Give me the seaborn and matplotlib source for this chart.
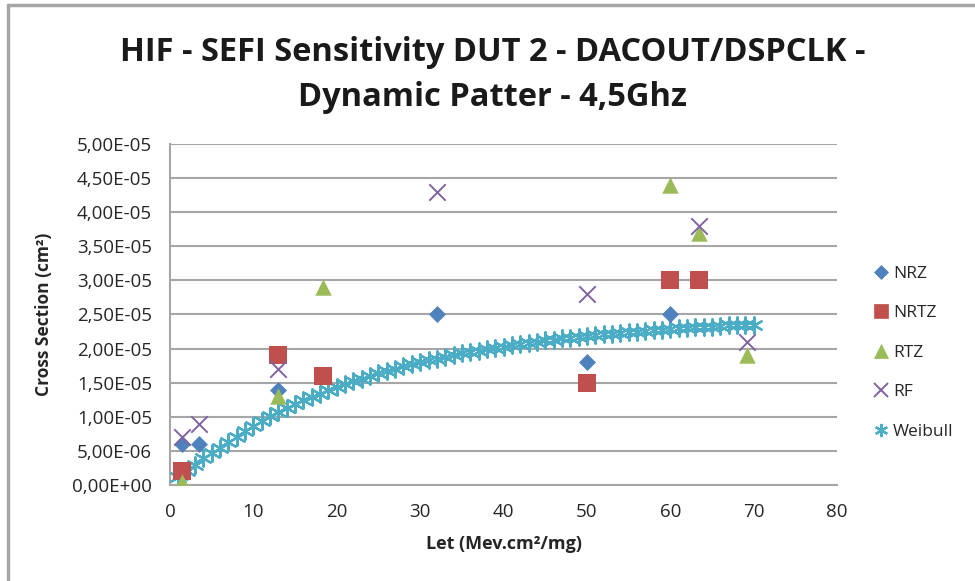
import matplotlib
matplotlib.use("Agg")
import matplotlib.pyplot as plt
from matplotlib.lines import Line2D
from matplotlib.ticker import FuncFormatter, MultipleLocator
import numpy as np
import pandas as pd
import seaborn as sns

# Measured cross sections per pattern
nrz_let = [1.4, 3.5, 12.9, 32.0, 50.0, 60.0]
nrz_xs = [6.0e-6, 6.0e-6, 1.4e-5, 2.5e-5, 1.8e-5, 2.5e-5]

nrtz_let = [1.4, 12.9, 18.4, 50.0, 60.0, 63.4]
nrtz_xs = [2.0e-6, 1.9e-5, 1.6e-5, 1.5e-5, 3.0e-5, 3.0e-5]

rtz_let = [1.4, 12.9, 18.4, 60.0, 63.4, 69.2]
rtz_xs = [0.5e-6, 1.3e-5, 2.9e-5, 4.4e-5, 3.7e-5, 1.9e-5]

rf_let = [1.4, 3.5, 12.9, 32.0, 50.0, 63.4, 69.2]
rf_xs = [7.0e-6, 9.0e-6, 1.7e-5, 4.3e-5, 2.8e-5, 3.8e-5, 2.1e-5]

# Weibull fit, sampled each LET unit
weibull_let = list(range(1, 71))
weibull_xs = [
    1.2e-6, 2.1e-6, 3.0e-6, 3.9e-6, 4.7e-6, 5.5e-6, 6.3e-6, 7.1e-6, 7.9e-6, 8.7e-6,
    9.4e-6, 1.01e-5, 1.07e-5, 1.13e-5, 1.19e-5, 1.24e-5, 1.29e-5, 1.34e-5, 1.39e-5, 1.43e-5,
    1.48e-5, 1.52e-5, 1.56e-5, 1.60e-5, 1.64e-5, 1.67e-5, 1.70e-5, 1.74e-5, 1.77e-5, 1.80e-5,
    1.83e-5, 1.85e-5, 1.88e-5, 1.90e-5, 1.93e-5, 1.95e-5, 1.97e-5, 1.99e-5, 2.01e-5, 2.03e-5,
    2.05e-5, 2.07e-5, 2.08e-5, 2.10e-5, 2.12e-5, 2.13e-5, 2.15e-5, 2.16e-5, 2.17e-5, 2.19e-5,
    2.20e-5, 2.21e-5, 2.22e-5, 2.23e-5, 2.24e-5, 2.25e-5, 2.26e-5, 2.27e-5, 2.28e-5, 2.29e-5,
    2.30e-5, 2.30e-5, 2.31e-5, 2.32e-5, 2.32e-5, 2.33e-5, 2.34e-5, 2.34e-5, 2.35e-5, 2.35e-5,
]

series_names = ["NRZ", "NRTZ", "RTZ", "RF", "Weibull"]
x_ticks = [0, 10, 20, 30, 40, 50, 60, 70, 80]

sns.set_theme(style="white")
plt.rcParams["font.family"] = ["Open Sans", "DejaVu Sans"]

fig = plt.figure(figsize=(9.75, 5.81), dpi=100)
ax = fig.add_axes([0.1744, 0.1652, 0.6841, 0.5870])

styles = {
    "NRZ": dict(color="#4F81BD", marker="D", s=75, linewidth=0),
    "NRTZ": dict(color="#C0504D", marker="s", s=150, linewidth=0),
    "RTZ": dict(color="#9BBB59", marker="^", s=140, linewidth=0),
    "RF": dict(color="#8064A2", marker="x", s=140, linewidth=1.4),
    "Weibull": dict(color="#4BACC6", marker=(6, 2, 0), s=140, linewidth=1.6),
}
data = {
    "NRZ": (nrz_let, nrz_xs),
    "NRTZ": (nrtz_let, nrtz_xs),
    "RTZ": (rtz_let, rtz_xs),
    "RF": (rf_let, rf_xs),
    "Weibull": (weibull_let, weibull_xs),
}

draw_order = ["Weibull", "NRZ", "NRTZ", "RTZ", "RF"]
for name in draw_order:
    let, xs = data[name]
    df = pd.DataFrame({"let": let, "xs": xs})
    st = styles[name]
    sns.scatterplot(data=df, x="let", y="xs", ax=ax, color=st["color"],
                    marker=st["marker"], s=st["s"], linewidth=st["linewidth"],
                    edgecolor=st["color"] if st["linewidth"] == 0 else None,
                    zorder=3 if name == "Weibull" else 4, legend=False)

ax.set_xlim(0, 80)
ax.set_ylim(0, 5e-5)
ax.set_xticks(x_ticks)
ax.yaxis.set_major_locator(MultipleLocator(5e-6))


def sci_comma(v, pos):
    mant, exp = f"{v:.2E}".split("E")
    return f"{mant.replace('.', ',')}E{exp[0]}{exp[1:].zfill(2)}"


ax.yaxis.set_major_formatter(FuncFormatter(sci_comma))
ax.grid(axis="y", color="#A6A6A6", linewidth=1.5)
ax.grid(axis="x", visible=False)
for side in ["top", "right"]:
    ax.spines[side].set_visible(False)
for side in ["left", "bottom"]:
    ax.spines[side].set_color("#A6A6A6")
    ax.spines[side].set_linewidth(1.5)
ax.tick_params(axis="both", direction="out", length=5, width=1.5, color="#A6A6A6",
               labelsize=13.5, labelcolor="#262626")
ax.tick_params(axis="y", pad=8)
ax.tick_params(axis="x", pad=8)
ax.set_axisbelow(True)

ax.set_xlabel("Let (Mev.cm²/mg)", fontsize=13, fontweight="bold", labelpad=10)
ax.set_ylabel("Cross Section (cm²)", fontsize=12.5, fontweight="bold", labelpad=14)

fig.text(0.505, 0.910, "HIF - SEFI Sensitivity DUT 2 - DACOUT/DSPCLK -",
         ha="center", va="center", fontsize=23.5, fontweight="bold", color="#1a1a1a")
fig.text(0.505, 0.832, "Dynamic Patter - 4,5Ghz",
         ha="center", va="center", fontsize=23.5, fontweight="bold", color="#1a1a1a")

handles = []
for name in series_names:
    st = styles[name]
    msize = np.sqrt(st["s"])
    handles.append(Line2D([], [], linestyle="none", marker=st["marker"], color=st["color"],
                          markersize=msize * 0.8, markeredgewidth=st["linewidth"] or 0.5,
                          label=name))
fig.legend(handles=handles, loc="upper left", bbox_to_anchor=(0.889, 0.555),
           frameon=False, fontsize=12.5, handlelength=0.8, handletextpad=0.3,
           labelspacing=1.35, borderaxespad=0)

# Outer chart frame (left and top edges)
fig.add_artist(Line2D([0.0085, 0.0085], [0, 0.992], transform=fig.transFigure,
                      color="#A6A6A6", linewidth=2.5))
fig.add_artist(Line2D([0.0085, 1.0], [0.992, 0.992], transform=fig.transFigure,
                      color="#A6A6A6", linewidth=2.5))

fig.savefig("out.png", dpi=100, facecolor="white")
